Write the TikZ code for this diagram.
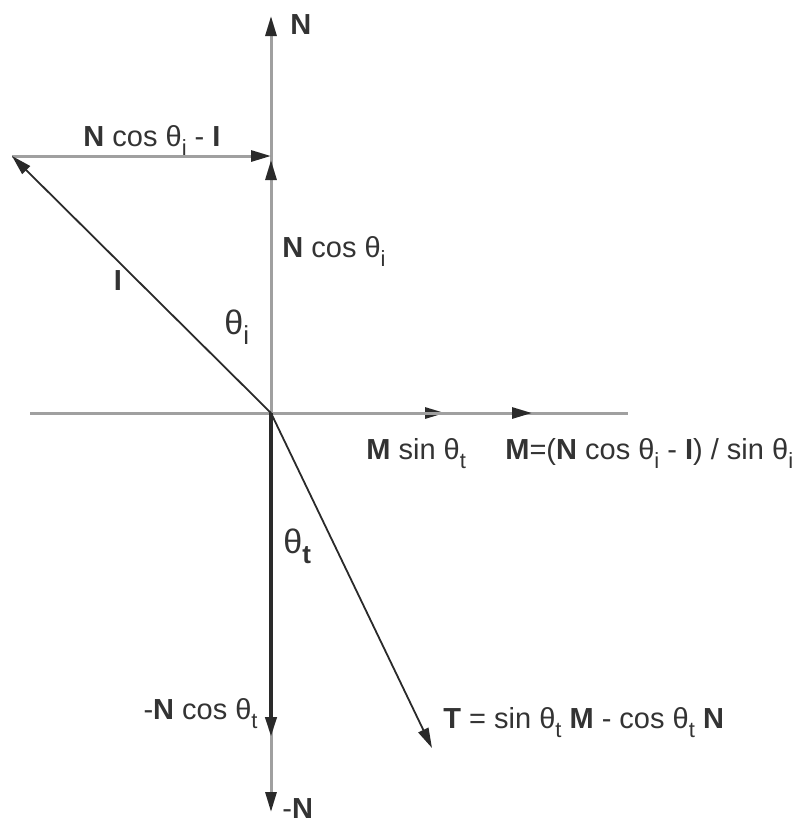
\documentclass[tikz,border=0pt]{standalone}
\usepackage{fontspec}
\setmainfont{Liberation Sans}
\usepackage{xcolor}
\usepackage{tikz}
\usetikzlibrary{arrows.meta,positioning}
\definecolor{axgray}{HTML}{A0A0A0}
\definecolor{vecdark}{HTML}{2A2A2A}
\definecolor{txtgray}{HTML}{333333}
\newcommand{\vb}[1]{\textbf{#1}}
\newcommand{\thsub}[1]{θ\raisebox{-0.6ex}{\fontsize{11}{12}\selectfont #1}}
\newcommand{\thbig}[1]{θ\raisebox{-0.6ex}{\fontsize{13}{14}\selectfont #1}}

\begin{document}
\begin{tikzpicture}[x=0.5pt,y=-0.5pt,
    font=\fontsize{14.5}{17}\selectfont,
    axis/.style={draw=axgray,line width=1.5pt},
    vec/.style={draw=vecdark,line width=0.9pt},
    tip/.style={-{Triangle[length=10pt,width=5.5pt,color=vecdark]}},
    lbl/.style={text=txtgray,inner sep=0pt}]
  \useasboundingbox (0,0) rectangle (809,827);

  % points of the construction
  \coordinate (O) at (271,413);
  \coordinate (Ntip) at (271,16);
  \coordinate (Ncos) at (271,160);
  \coordinate (Itip) at (12,156);
  \coordinate (Ncorner) at (271,156);
  \coordinate (Hleft) at (30,413);
  \coordinate (Hright) at (628,413);
  \coordinate (Msin) at (445,413);
  \coordinate (Mtip) at (532,413);
  \coordinate (NcosT) at (271,737);
  \coordinate (Nneg) at (271,812);
  \coordinate (Ttip) at (432,748);

  % axes and gray vectors
  \draw[axis] (Hleft) -- (Hright);
  \draw[axis,tip] (O) -- (Ntip);
  \draw[axis,tip] (O) -- (Ncos);
  \draw[axis,tip] (O) -- (Nneg);
  \draw[axis,tip] (O) -- (Msin);
  \draw[axis,tip] (O) -- (Mtip);
  \draw[axis,tip] (Itip) -- (Ncorner);

  % dark vectors
  \draw[vec,tip] (O) -- (Itip);
  \draw[vec,tip] (O) -- (Ttip);
  \draw[vec,line width=2pt,tip] (O) -- (NcosT);

  % labels
  \node[lbl,anchor=base west] (nlab) at (290,34) {\vb{N}};
  \node[lbl,anchor=base] (diffl) at (152,146) {\vb{N} cos \thsub{i} - \vb{I}};
  \node[lbl,anchor=base west] (ncosl) at (282,257) {\vb{N} cos \thsub{i}};
  \node[lbl,anchor=base] (ilab) at (118,290) {\vb{I}};
  \node[lbl,anchor=base west,font=\fontsize{17}{19}\selectfont] (thil) at (224,334) {\thbig{i}};
  \node[lbl,anchor=base west] (msinl) at (366,459) {\vb{M} sin \thsub{t}};
  \node[lbl,anchor=base west] (mdefl) at (505,459) {\vb{M}=(\vb{N} cos \thsub{i} - \vb{I}) / sin \thsub{i}};
  \node[lbl,anchor=base west,font=\fontsize{17}{19}\selectfont] (thtl) at (283,553) {\thbig{\bfseries t}};
  \node[lbl,anchor=base east] (ncostl) at (258,719) {-\vb{N} cos \thsub{t}};
  \node[lbl,anchor=base west] (tdefl) at (443,728) {\vb{T} = sin \thsub{t} \vb{M} - cos \thsub{t} \vb{N}};
  \node[lbl,anchor=base west] (nnegl) at (282,818) {-\vb{N}};
\end{tikzpicture}
\end{document}
